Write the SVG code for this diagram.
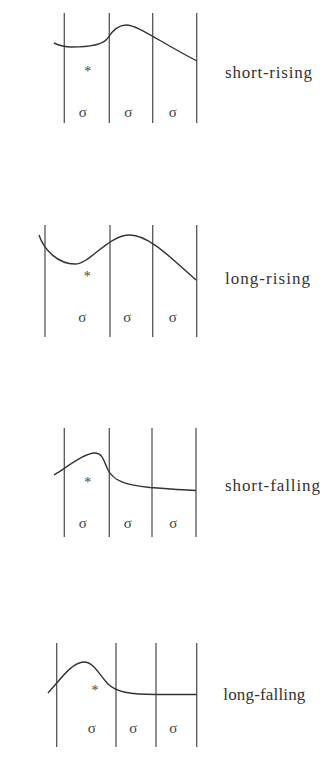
<svg xmlns="http://www.w3.org/2000/svg" width="332" height="777" viewBox="0 0 332 777">
<style>
.bar{stroke:#555;stroke-width:1.3;fill:none}
.pitch{stroke:#333;stroke-width:1.4;fill:none}
.sig{font-family:"Liberation Serif","DejaVu Serif",serif;font-size:15px;fill:#444;text-anchor:middle}
.ast{font-family:"Liberation Serif","DejaVu Serif",serif;font-size:14px;fill:#444;text-anchor:middle}
.lbl{font-family:"Liberation Serif","DejaVu Serif",serif;font-size:17px;fill:#333}
</style>
<rect width="332" height="777" fill="#fff"/>
<g id="short-rising">
<line class="bar" x1="64.3" y1="13" x2="64.3" y2="123"/>
<line class="bar" x1="109.3" y1="13" x2="109.3" y2="123"/>
<line class="bar" x1="152.7" y1="13" x2="152.7" y2="123"/>
<line class="bar" x1="196.7" y1="13" x2="196.7" y2="123"/>
<path class="pitch" d="M54,43 C60,46 65,47 72,47 C90,47 102,45 107,39 C112,31 118,25 126,25 C138,25 160,42 197,61"/>
<text class="ast" x="87.7" y="75.5">*</text>
<text class="sig" x="82.7" y="117.3">σ</text>
<text class="sig" x="128.3" y="117.3">σ</text>
<text class="sig" x="172.7" y="117.3">σ</text>
<text class="lbl" x="225" y="78.3" textLength="87" lengthAdjust="spacing">short-rising</text>
</g>
<g id="long-rising">
<line class="bar" x1="45" y1="225" x2="45" y2="337"/>
<line class="bar" x1="110" y1="225" x2="110" y2="337"/>
<line class="bar" x1="152.7" y1="225" x2="152.7" y2="337"/>
<line class="bar" x1="196.7" y1="225" x2="196.7" y2="337"/>
<path class="pitch" d="M39,235 C44,250 58,264 75,264 C90,264 108,235 130,235 C150,235 175,262 196,280"/>
<text class="ast" x="87.3" y="280.5">*</text>
<text class="sig" x="82.3" y="321.7">σ</text>
<text class="sig" x="127.3" y="321.7">σ</text>
<text class="sig" x="172.7" y="321.7">σ</text>
<text class="lbl" x="225" y="284" textLength="85" lengthAdjust="spacing">long-rising</text>
</g>
<g id="short-falling">
<line class="bar" x1="64.3" y1="428" x2="64.3" y2="537"/>
<line class="bar" x1="109.3" y1="428" x2="109.3" y2="537"/>
<line class="bar" x1="152" y1="428" x2="152" y2="537"/>
<line class="bar" x1="196" y1="428" x2="196" y2="537"/>
<path class="pitch" d="M54,475 C70,465 85,453 95,453 C103,453 104,462 108,470 C114,481 125,485 150,487.5 C170,489 185,490 196,490.5"/>
<text class="ast" x="87.7" y="487">*</text>
<text class="sig" x="82.7" y="528">σ</text>
<text class="sig" x="127.7" y="528">σ</text>
<text class="sig" x="173.3" y="528">σ</text>
<text class="lbl" x="225" y="491" textLength="95" lengthAdjust="spacing">short-falling</text>
</g>
<g id="long-falling">
<line class="bar" x1="56.7" y1="643" x2="56.7" y2="747"/>
<line class="bar" x1="116" y1="643" x2="116" y2="747"/>
<line class="bar" x1="156" y1="643" x2="156" y2="747"/>
<line class="bar" x1="196.7" y1="643" x2="196.7" y2="747"/>
<path class="pitch" d="M48,693 C60,680 72,662 84,662 C94,662 100,676 108,684 C116,692 130,694.5 156,694.5 L196.7,694.5"/>
<text class="ast" x="95" y="694.5">*</text>
<text class="sig" x="91.7" y="733">σ</text>
<text class="sig" x="133.3" y="733">σ</text>
<text class="sig" x="173.3" y="733">σ</text>
<text class="lbl" x="223.3" y="700" textLength="82" lengthAdjust="spacing">long-falling</text>
</g>
</svg>
